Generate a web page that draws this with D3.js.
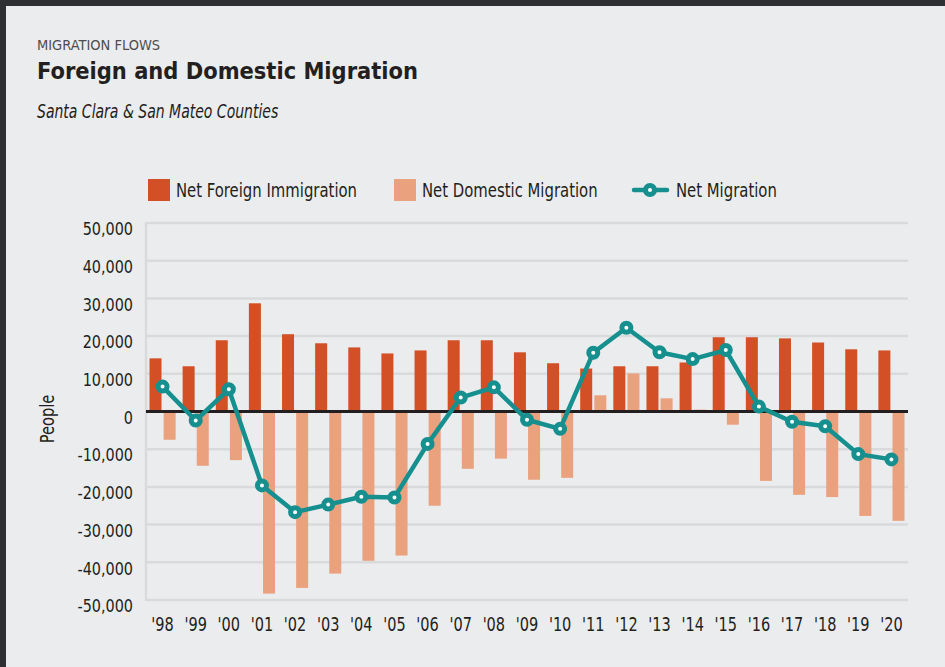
<!DOCTYPE html>
<html lang="en">
<head>
  <meta charset="UTF-8">
  <title>migration</title>
  <script src="https://cdn.jsdelivr.net/npm/d3@7"></script>
</head>
<body>
<style>
  * {
    padding: 0;
    margin: 0;
  }
  body {
    background: #2e2f33;
  }
  #app {
    width: 945px;
    height: 667px;
  }
  text {
    font-family: "DejaVu Sans Condensed", "DejaVu Sans", sans-serif;
    fill: #231f20;
  }
</style>

<div id="app"></div>

<script>
  // data
  const years = ["'98", "'99", "'00", "'01", "'02", "'03", "'04", "'05", "'06", "'07", "'08", "'09",
    "'10", "'11", "'12", "'13", "'14", "'15", "'16", "'17", "'18", "'19", "'20"];

  const foreign = [14100, 12000, 18900, 28700, 20500, 18100, 17000, 15400, 16200, 18900, 18900, 15700,
    12800, 11400, 12000, 12000, 13000, 19700, 19700, 19400, 18300, 16500, 16200];

  const domestic = [-7500, -14400, -12900, -48300, -46800, -43000, -39600, -38200, -25000, -15200, -12500, -18100,
    -17600, 4300, 10100, 3500, 500, -3500, -18400, -22100, -22700, -27700, -29000];

  const net = [6600, -2400, 5900, -19600, -26700, -24700, -22600, -22800, -8600, 3700, 6400, -2200,
    -4600, 15600, 22200, 15700, 13900, 16300, 1300, -2700, -3900, -11300, -12700];

  const yTicks = [-50000, -40000, -30000, -20000, -10000, 0, 10000, 20000, 30000, 40000, 50000];

  const seriesNames = ["Net Foreign Immigration", "Net Domestic Migration", "Net Migration"];

  const $width = 945, $height = 667;
  const cOrange = "#d35026", cPeach = "#eaa17e", cTeal = "#168f8f", cGrid = "#d9dadc";

  const svg = d3.select("#app").append("svg").attr("width", $width).attr("height", $height)

  // squeeze text sideways, the original face is a condensed one
  function condense(sel, s) {
    sel.each(function () {
      const x = +d3.select(this).attr("x") || 0
      d3.select(this).attr("transform", "translate(" + x + ",0) scale(" + s + ",1) translate(" + (-x) + ",0)")
    })
  }

  // panel, dark frame shows on top and left
  svg.append("rect").attr("x", 6).attr("y", 6).attr("width", $width - 6).attr("height", $height - 6)
    .attr("fill", "#ebecee")

  /**
   * 标题
   */
  svg.append("text").text("MIGRATION FLOWS").attr("x", 37).attr("y", 50)
    .attr("font-size", 14.5).style("fill", "#4d4d4f")
  svg.append("text").text("Foreign and Domestic Migration").attr("x", 37).attr("y", 79)
    .attr("font-size", 23.4).attr("font-weight", "bold")
  svg.append("text").text("Santa Clara & San Mateo Counties").attr("x", 37).attr("y", 118)
    .attr("font-size", 19).attr("font-style", "italic").call(condense, 0.82)

  /**
   * scales
   */
  const scaleX = d3.scaleBand().domain(years).range([146, 908])
  const scaleY = d3.scaleLinear().domain([-50000, 50000]).range([600, 223])
  const scaleSub = d3.scaleBand().domain(["f", "d"])
    .range([3.5, scaleX.bandwidth() - 3.5]).paddingInner(0.15)

  // grid
  svg.append("g").selectAll("line").data(yTicks.filter(d => d !== 0)).enter().append("line")
    .attr("x1", 146).attr("x2", 908)
    .attr("y1", d => scaleY(d)).attr("y2", d => scaleY(d))
    .attr("stroke", cGrid).attr("stroke-width", 2.5)

  svg.append("line").attr("x1", 146).attr("x2", 146)
    .attr("y1", scaleY(50000) - 1).attr("y2", scaleY(-50000) + 1)
    .attr("stroke", cGrid).attr("stroke-width", 2.5)

  // y axis labels
  const fmt = d3.format(",")
  const axisY = d3.axisLeft(scaleY).tickValues(yTicks).tickSize(0).tickPadding(0)
    .tickFormat(d => fmt(d).replace("\u2212", "-"))
  const gy = svg.append("g").attr("transform", "translate(133,6)").call(axisY)
  gy.select(".domain").remove()
  gy.selectAll("text").attr("font-size", 18).style("font-family", null).call(condense, 0.89)

  svg.append("text").text("People").attr("transform", "translate(54,419) rotate(-90) scale(0.86,1)")
    .attr("text-anchor", "middle").attr("font-size", 19)

  // x axis labels
  const axisX = d3.axisBottom(scaleX).tickSize(0).tickPadding(0)
  const gx = svg.append("g").attr("transform", "translate(0,617)").call(axisX)
  gx.select(".domain").remove()
  gx.selectAll("text").attr("font-size", 19).style("font-family", null)
  gx.selectAll(".tick").each(function () {
    d3.select(this).select("text").attr("transform", "scale(0.85,1)")
  })

  /**
   * bars
   */
  svg.append("g").selectAll("rect").data(foreign).enter().append("rect")
    .attr("x", (d, i) => scaleX(years[i]) + scaleSub("f"))
    .attr("width", scaleSub.bandwidth())
    .attr("y", d => scaleY(Math.max(0, d)))
    .attr("height", d => Math.abs(scaleY(d) - scaleY(0)))
    .attr("fill", cOrange)

  svg.append("g").selectAll("rect").data(domestic).enter().append("rect")
    .attr("x", (d, i) => scaleX(years[i]) + scaleSub("d"))
    .attr("width", scaleSub.bandwidth())
    .attr("y", d => scaleY(Math.max(0, d)))
    .attr("height", d => Math.abs(scaleY(d) - scaleY(0)))
    .attr("fill", cPeach)

  // zero line
  svg.append("line").attr("x1", 146).attr("x2", 908)
    .attr("y1", scaleY(0)).attr("y2", scaleY(0))
    .attr("stroke", "#231f20").attr("stroke-width", 3)

  /**
   * net line
   */
  const cx = (d, i) => scaleX(years[i]) + scaleX.bandwidth() / 2
  const line = d3.line().x(cx).y(d => scaleY(d))
  svg.append("path").datum(net).attr("d", line)
    .attr("fill", "none").attr("stroke", cTeal).attr("stroke-width", 4.5).attr("stroke-linejoin", "round")

  svg.append("g").selectAll("circle").data(net).enter().append("circle")
    .attr("cx", cx).attr("cy", d => scaleY(d)).attr("r", 4.5)
    .attr("fill", "white").attr("stroke", cTeal).attr("stroke-width", 5)

  /**
   * legend
   */
  const lg = svg.append("g")
  lg.append("rect").attr("x", 148).attr("y", 179).attr("width", 22).attr("height", 22).attr("fill", cOrange)
  lg.append("text").text(seriesNames[0]).attr("x", 176).attr("y", 197).attr("font-size", 19).call(condense, 0.87)
  lg.append("rect").attr("x", 394).attr("y", 179).attr("width", 22).attr("height", 22).attr("fill", cPeach)
  lg.append("text").text(seriesNames[1]).attr("x", 422).attr("y", 197).attr("font-size", 19).call(condense, 0.87)
  lg.append("line").attr("x1", 634).attr("x2", 667).attr("y1", 190).attr("y2", 190)
    .attr("stroke", cTeal).attr("stroke-width", 4.5).attr("stroke-linecap", "round")
  lg.append("circle").attr("cx", 650).attr("cy", 190).attr("r", 4.5)
    .attr("fill", "white").attr("stroke", cTeal).attr("stroke-width", 5)
  lg.append("text").text(seriesNames[2]).attr("x", 676).attr("y", 197).attr("font-size", 19).call(condense, 0.87)
</script>
</body>
</html>
